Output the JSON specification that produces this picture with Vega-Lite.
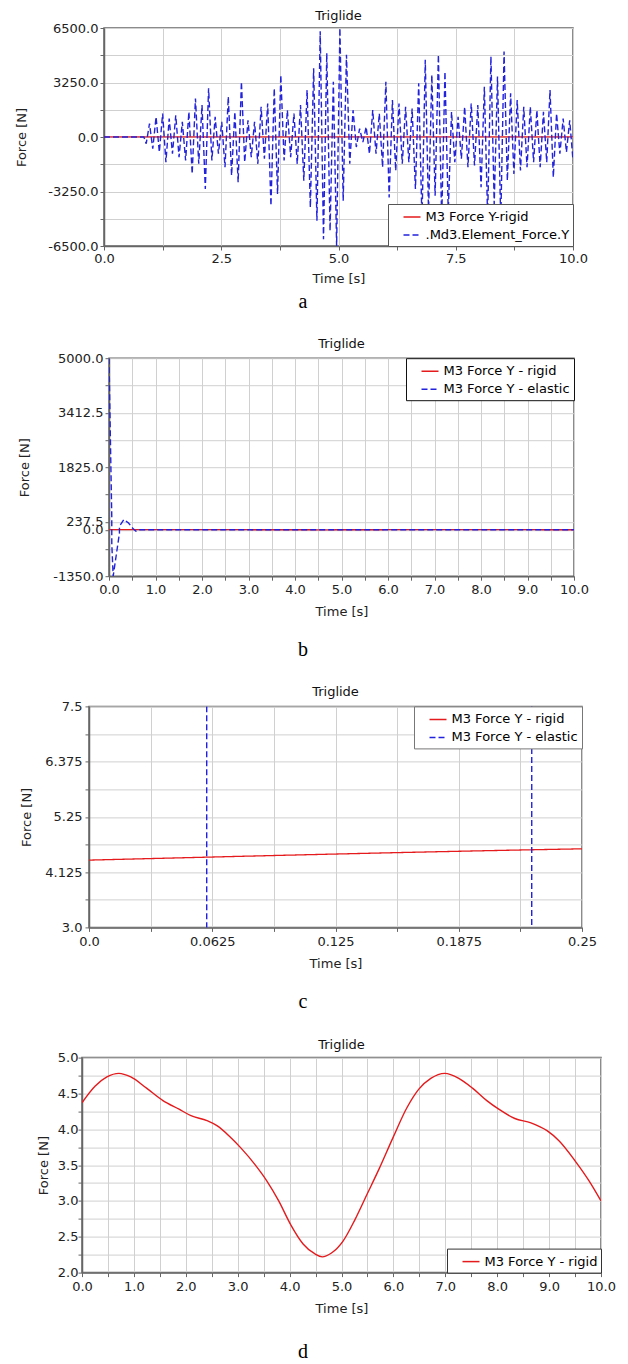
{
 "$schema": "https://vega.github.io/schema/vega-lite/v6.json",
 "padding": {"left": 0, "top": 9, "right": 0, "bottom": 0},
 "background": "white",
 "config": {
  "font": "DejaVu Sans",
  "view": {"stroke": null},
  "axis": {"labelFont": "DejaVu Sans", "titleFont": "DejaVu Sans", "labelFontSize": 13, "titleFontSize": 13, "labelColor": "#222", "titleColor": "#222", "titleFontWeight": "normal", "domainColor": "#666", "domainWidth": 1.5, "tickColor": "#666", "tickSize": 4, "gridColor": "#d0d0d0", "gridWidth": 1, "labelFlush": false, "labelOverlap": false, "grid": true},
  "title": {"font": "DejaVu Sans", "fontSize": 13, "fontWeight": "normal", "color": "#111"},
  "legend": {"labelFont": "DejaVu Sans", "labelFontSize": 13, "labelLimit": 300, "symbolType": "stroke", "symbolSize": 289, "symbolStrokeWidth": 1.5, "symbolOffset": 11, "labelOffset": 4, "padding": 3.5, "rowPadding": 1, "fillColor": "white", "offset": 0}
 },
 "datasets": {
  "rigid": [
   {"t":0,"f":4.37},{"t":0.25,"f":4.6},{"t":0.48,"f":4.73},{"t":0.71,"f":4.78},{"t":0.94,"f":4.73},{"t":1.25,"f":4.57},{"t":1.56,"f":4.4},{"t":1.87,"f":4.28},{"t":2.1,"f":4.19},{"t":2.41,"f":4.12},{"t":2.6,"f":4.05},{"t":2.83,"f":3.91},{"t":3.06,"f":3.74},{"t":3.33,"f":3.51},{"t":3.56,"f":3.28},{"t":3.79,"f":3.0},{"t":4.02,"f":2.67},{"t":4.26,"f":2.4},{"t":4.49,"f":2.26},{"t":4.63,"f":2.22},{"t":4.8,"f":2.27},{"t":5.03,"f":2.44},{"t":5.26,"f":2.74},{"t":5.49,"f":3.09},{"t":5.72,"f":3.44},{"t":5.99,"f":3.88},{"t":6.26,"f":4.3},{"t":6.49,"f":4.56},{"t":6.72,"f":4.71},{"t":6.99,"f":4.78},{"t":7.26,"f":4.71},{"t":7.53,"f":4.57},{"t":7.8,"f":4.4},{"t":8.03,"f":4.28},{"t":8.34,"f":4.15},{"t":8.65,"f":4.09},{"t":8.96,"f":3.98},{"t":9.19,"f":3.84},{"t":9.5,"f":3.56},{"t":9.77,"f":3.28},{"t":10,"f":3.0}
  ],
  "elastic": [
   {"t":0,"f":5000},{"t":0.0594,"f":400},{"t":0.06,"f":-400},{"t":0.09,"f":-1350},{"t":0.2243,"f":-100},{"t":0.2247,"f":100},{"t":0.32,"f":300},{"t":0.42,"f":200},{"t":0.52,"f":30},{"t":0.58,"f":-40},{"t":0.65,"f":4},{"t":10,"f":4}
  ],
  "md3": [
   {"t":0,"f":0},{"t":0.85,"f":0},
   {"t":0.9,"f":-400},{"t":0.97,"f":800},{"t":1.04,"f":-700},{"t":1.11,"f":1200},{"t":1.18,"f":-900},{"t":1.25,"f":1400},{"t":1.32,"f":-1500},{"t":1.39,"f":1100},{"t":1.46,"f":-1000},{"t":1.53,"f":1300},
   {"t":1.6,"f":-1200},{"t":1.67,"f":900},{"t":1.74,"f":-1400},{"t":1.81,"f":1500},{"t":1.88,"f":-2200},{"t":1.95,"f":2300},{"t":2.02,"f":-1600},{"t":2.09,"f":1900},{"t":2.16,"f":-3100},{"t":2.23,"f":2900},
   {"t":2.3,"f":-1400},{"t":2.37,"f":1200},{"t":2.44,"f":-1000},{"t":2.51,"f":900},{"t":2.58,"f":-1800},{"t":2.65,"f":2400},{"t":2.72,"f":-2300},{"t":2.79,"f":1500},{"t":2.86,"f":-2700},{"t":2.93,"f":3300},
   {"t":3.0,"f":-1500},{"t":3.07,"f":1000},{"t":3.14,"f":-1200},{"t":3.21,"f":900},{"t":3.28,"f":-1600},{"t":3.35,"f":1800},{"t":3.42,"f":-1300},{"t":3.49,"f":2000},{"t":3.56,"f":-4100},{"t":3.63,"f":2900},
   {"t":3.7,"f":-3400},{"t":3.77,"f":3700},{"t":3.84,"f":-1400},{"t":3.91,"f":1600},{"t":3.98,"f":-1200},{"t":4.05,"f":1400},{"t":4.12,"f":-1600},{"t":4.19,"f":1900},{"t":4.26,"f":-2600},{"t":4.33,"f":2800},
   {"t":4.4,"f":-4200},{"t":4.47,"f":4100},{"t":4.54,"f":-5000},{"t":4.61,"f":6300},{"t":4.68,"f":-6100},{"t":4.75,"f":5000},{"t":4.82,"f":-5600},{"t":4.89,"f":3300},{"t":4.96,"f":-6500},{"t":5.03,"f":6500},
   {"t":5.1,"f":-3800},{"t":5.17,"f":4900},{"t":5.24,"f":-1600},{"t":5.31,"f":1600},{"t":5.38,"f":-600},{"t":5.45,"f":500},{"t":5.52,"f":-300},{"t":5.59,"f":600},{"t":5.66,"f":-1000},{"t":5.73,"f":1600},
   {"t":5.8,"f":-1000},{"t":5.87,"f":1400},{"t":5.94,"f":-1800},{"t":6.01,"f":3300},{"t":6.08,"f":-3600},{"t":6.15,"f":2200},{"t":6.22,"f":-2000},{"t":6.29,"f":2000},{"t":6.36,"f":-1600},{"t":6.43,"f":1800},
   {"t":6.5,"f":-1500},{"t":6.57,"f":1700},{"t":6.64,"f":-3100},{"t":6.71,"f":3200},{"t":6.78,"f":-5000},{"t":6.85,"f":4600},{"t":6.92,"f":-4500},{"t":6.99,"f":3700},{"t":7.06,"f":-3500},{"t":7.13,"f":4900},
   {"t":7.2,"f":-5000},{"t":7.27,"f":3900},{"t":7.34,"f":-4500},{"t":7.41,"f":1500},{"t":7.48,"f":-1500},{"t":7.55,"f":1200},{"t":7.62,"f":-1300},{"t":7.69,"f":1800},{"t":7.76,"f":-1800},{"t":7.83,"f":2000},
   {"t":7.9,"f":-1700},{"t":7.97,"f":1900},{"t":8.04,"f":-3000},{"t":8.11,"f":3000},{"t":8.18,"f":-4800},{"t":8.25,"f":4800},{"t":8.32,"f":-4000},{"t":8.39,"f":3600},{"t":8.46,"f":-5000},{"t":8.53,"f":5100},
   {"t":8.6,"f":-2600},{"t":8.67,"f":2600},{"t":8.74,"f":-2200},{"t":8.81,"f":2200},{"t":8.88,"f":-2000},{"t":8.95,"f":1800},{"t":9.02,"f":-1800},{"t":9.09,"f":1800},{"t":9.16,"f":-1500},{"t":9.23,"f":1600},
   {"t":9.3,"f":-1800},{"t":9.37,"f":1500},{"t":9.44,"f":-1500},{"t":9.51,"f":2800},{"t":9.58,"f":-2400},{"t":9.65,"f":1400},{"t":9.72,"f":-1000},{"t":9.79,"f":1100},{"t":9.86,"f":-900},{"t":9.93,"f":1000},
   {"t":10,"f":-1400}
  ]
 },
 "spacing": 25.2,
 "resolve": {"scale": {"color": "independent", "strokeDash": "independent"}, "legend": {"color": "independent", "strokeDash": "independent"}},
 "vconcat": [
  {
   "spacing": 0,
   "resolve": {"scale": {"color": "independent", "strokeDash": "independent"}, "legend": {"color": "independent", "strokeDash": "independent"}},
   "title": {"text": "a", "orient": "bottom", "anchor": "start", "align": "center", "dx": 303, "font": "Liberation Serif", "fontSize": 20, "fontWeight": "normal", "color": "#000", "baseline": "alphabetic", "offset": 22},
   "hconcat": [
    {"width": 13.5, "height": 1, "data": {"values": []}, "mark": "point"},
    {
     "width": 469, "height": 218,
     "view": {"stroke": "#666", "strokeWidth": 1.5},
     "title": {"text": "Triglide", "frame": "group", "baseline": "alphabetic", "offset": -11},
     "encoding": {
      "x": {"field": "t", "type": "quantitative", "scale": {"domain": [0, 10], "nice": false}, "axis": {"title": "Time [s]", "values": [0,1.25,2.5,3.75,5,6.25,7.5,8.75,10], "labelExpr": "datum.value % 2.5 == 0 ? format(datum.value, '.1f') : ''", "labelPadding": 2, "titlePadding": 7}},
      "y": {"field": "f", "type": "quantitative", "scale": {"domain": [-6500, 6500], "nice": false}, "axis": {"title": "Force [N]", "values": [-6500,-4875,-3250,-1625,0,1625,3250,4875,6500], "labelExpr": "datum.value % 3250 == 0 ? replace(format(datum.value, '.1f'), '−', '-') : ''", "labelPadding": 2, "titleX": -83, "titleY": 109, "titleBaseline": "middle", "titleAlign": "center"}}
     },
     "layer": [
      {"data": {"name": "rigid"}, "mark": {"type": "line", "clip": true, "strokeWidth": 1.3, "interpolate": "monotone"},
       "encoding": {
        "color": {"datum": "M3 Force Y-rigid", "scale": {"domain": ["M3 Force Y-rigid", ".Md3.Element_Force.Y"], "range": ["#e41a1c", "#2222dd"]},
         "legend": {"title": null, "orient": "bottom-right", "strokeColor": "#555", "encode": {"labels": {"fill": {"value": {"expr": "indexof(datum.value, 'rigid') >= 0 ? '#e41a1c' : '#2222dd'"}}}}}},
        "strokeDash": {"datum": "M3 Force Y-rigid", "scale": {"domain": ["M3 Force Y-rigid", ".Md3.Element_Force.Y"], "range": [[1,0],[6,3]]}}
       }},
      {"data": {"name": "md3"}, "mark": {"type": "line", "clip": true, "strokeWidth": 1.4},
       "encoding": {"color": {"datum": ".Md3.Element_Force.Y"}, "strokeDash": {"datum": ".Md3.Element_Force.Y"}}}
     ]
    }
   ]
  },
  {
   "spacing": 0,
   "resolve": {"scale": {"color": "independent", "strokeDash": "independent"}, "legend": {"color": "independent", "strokeDash": "independent"}},
   "title": {"text": "b", "orient": "bottom", "anchor": "start", "align": "center", "dx": 303, "font": "Liberation Serif", "fontSize": 20, "fontWeight": "normal", "color": "#000", "baseline": "alphabetic", "offset": 37},
   "hconcat": [
    {"width": 16.5, "height": 1, "data": {"values": []}, "mark": "point"},
    {
     "width": 465, "height": 218,
     "view": {"stroke": "#666", "strokeWidth": 1.5},
     "title": {"text": "Triglide", "frame": "group", "baseline": "alphabetic", "offset": -9},
     "encoding": {
      "x": {"field": "t", "type": "quantitative", "scale": {"domain": [0, 10], "nice": false}, "axis": {"title": "Time [s]", "values": [0,0.5,1,1.5,2,2.5,3,3.5,4,4.5,5,5.5,6,6.5,7,7.5,8,8.5,9,9.5,10], "labelExpr": "datum.value % 1 == 0 ? format(datum.value, '.1f') : ''", "labelPadding": 3, "titlePadding": 9}},
      "y": {"field": "f", "type": "quantitative", "scale": {"domain": [-1350, 5000], "nice": false}, "axis": {"title": "Force [N]", "values": [-1350,-556.25,0,237.5,1031.25,1825,2618.75,3412.5,4206.25,5000], "labelExpr": "indexof([-1350,0,237.5,1825,3412.5,5000], datum.value) >= 0 ? replace(format(datum.value, '.1f'), '−', '-') : ''", "labelPadding": 2, "titleX": -85, "titleY": 109, "titleBaseline": "middle", "titleAlign": "center"}}
     },
     "layer": [
      {"data": {"name": "rigid"}, "mark": {"type": "line", "clip": true, "strokeWidth": 1.3, "interpolate": "monotone"},
       "encoding": {
        "color": {"datum": "M3 Force Y - rigid", "scale": {"domain": ["M3 Force Y - rigid", "M3 Force Y - elastic"], "range": ["#e41a1c", "#2222dd"]},
         "legend": {"title": null, "orient": "top-right", "strokeColor": "#111", "encode": {"legend": {"strokeWidth": {"value": 2}}, "labels": {"fill": {"value": {"expr": "indexof(datum.value, 'rigid') >= 0 ? '#e41a1c' : '#2222dd'"}}}}}},
        "strokeDash": {"datum": "M3 Force Y - rigid", "scale": {"domain": ["M3 Force Y - rigid", "M3 Force Y - elastic"], "range": [[1,0],[6,3]]}}
       }},
      {"data": {"name": "elastic"}, "mark": {"type": "line", "clip": true, "strokeWidth": 1.4},
       "encoding": {"color": {"datum": "M3 Force Y - elastic"}, "strokeDash": {"datum": "M3 Force Y - elastic"}}}
     ]
    }
   ]
  },
  {
   "spacing": 0,
   "resolve": {"scale": {"color": "independent", "strokeDash": "independent"}, "legend": {"color": "independent", "strokeDash": "independent"}},
   "title": {"text": "c", "orient": "bottom", "anchor": "start", "align": "center", "dx": 303, "font": "Liberation Serif", "fontSize": 20, "fontWeight": "normal", "color": "#000", "baseline": "alphabetic", "offset": 37},
   "hconcat": [
    {"width": 19, "height": 1, "data": {"values": []}, "mark": "point"},
    {
     "width": 493, "height": 221,
     "view": {"stroke": "#666", "strokeWidth": 1.5},
     "title": {"text": "Triglide", "frame": "group", "baseline": "alphabetic", "offset": -9},
     "encoding": {
      "x": {"field": "t", "type": "quantitative", "scale": {"domain": [0, 0.25], "nice": false}, "axis": {"title": "Time [s]", "values": [0,0.03125,0.0625,0.09375,0.125,0.15625,0.1875,0.21875,0.25], "labelExpr": "datum.value == 0 ? '0.0' : (indexof([0.0625,0.125,0.1875,0.25], datum.value) >= 0 ? toString(datum.value) : '')", "labelPadding": 4, "titlePadding": 9}},
      "y": {"field": "f", "type": "quantitative", "scale": {"domain": [3, 7.5], "nice": false}, "axis": {"title": "Force [N]", "values": [3,3.5625,4.125,4.6875,5.25,5.8125,6.375,6.9375,7.5], "labelExpr": "datum.value == 3 ? '3.0' : (indexof([4.125,5.25,6.375,7.5], datum.value) >= 0 ? toString(datum.value) : '')", "labelPadding": 3, "titleX": -62.5, "titleY": 110.5, "titleBaseline": "middle", "titleAlign": "center"}}
     },
     "layer": [
      {"data": {"name": "rigid"}, "mark": {"type": "line", "clip": true, "strokeWidth": 1.3, "interpolate": "monotone"},
       "encoding": {
        "color": {"datum": "M3 Force Y - rigid", "scale": {"domain": ["M3 Force Y - rigid", "M3 Force Y - elastic"], "range": ["#e41a1c", "#2222dd"]},
         "legend": {"title": null, "orient": "top-right", "strokeColor": "#777", "encode": {"labels": {"fill": {"value": {"expr": "indexof(datum.value, 'rigid') >= 0 ? '#e41a1c' : '#2222dd'"}}}}}},
        "strokeDash": {"datum": "M3 Force Y - rigid", "scale": {"domain": ["M3 Force Y - rigid", "M3 Force Y - elastic"], "range": [[1,0],[6,3]]}}
       }},
      {"data": {"name": "elastic"}, "mark": {"type": "line", "clip": true, "strokeWidth": 1.4},
       "encoding": {"color": {"datum": "M3 Force Y - elastic"}, "strokeDash": {"datum": "M3 Force Y - elastic"}}}
     ]
    }
   ]
  },
  {
   "spacing": 0,
   "resolve": {"scale": {"color": "independent", "strokeDash": "independent"}, "legend": {"color": "independent", "strokeDash": "independent"}},
   "title": {"text": "d", "orient": "bottom", "anchor": "start", "align": "center", "dx": 303, "font": "Liberation Serif", "fontSize": 20, "fontWeight": "normal", "color": "#000", "baseline": "alphabetic", "offset": 42},
   "hconcat": [
    {"width": 35.5, "height": 1, "data": {"values": []}, "mark": "point"},
    {
     "width": 519, "height": 215,
     "view": {"stroke": "#666", "strokeWidth": 1.5},
     "title": {"text": "Triglide", "frame": "group", "baseline": "alphabetic", "offset": -10},
     "encoding": {
      "x": {"field": "t", "type": "quantitative", "scale": {"domain": [0, 10], "nice": false}, "axis": {"title": "Time [s]", "values": [0,0.5,1,1.5,2,2.5,3,3.5,4,4.5,5,5.5,6,6.5,7,7.5,8,8.5,9,9.5,10], "labelExpr": "datum.value % 1 == 0 ? format(datum.value, '.1f') : ''", "labelPadding": 4, "titlePadding": 9}},
      "y": {"field": "f", "type": "quantitative", "scale": {"domain": [2, 5], "nice": false}, "axis": {"title": "Force [N]", "values": [2,2.25,2.5,2.75,3,3.25,3.5,3.75,4,4.25,4.5,4.75,5], "labelExpr": "datum.value % 0.5 == 0 ? format(datum.value, '.1f') : ''", "labelPadding": 0, "titleX": -39, "titleY": 107.5, "titleBaseline": "middle", "titleAlign": "center"}}
     },
     "layer": [
      {"data": {"name": "rigid"}, "mark": {"type": "line", "clip": true, "strokeWidth": 1.4, "interpolate": "monotone"},
       "encoding": {
        "color": {"datum": "M3 Force Y - rigid", "scale": {"domain": ["M3 Force Y - rigid"], "range": ["#e41a1c"]},
         "legend": {"title": null, "orient": "bottom-right", "strokeColor": "#333", "encode": {"labels": {"fill": {"value": "#e41a1c"}}}}}
       }}
     ]
    }
   ]
  }
 ]
}
